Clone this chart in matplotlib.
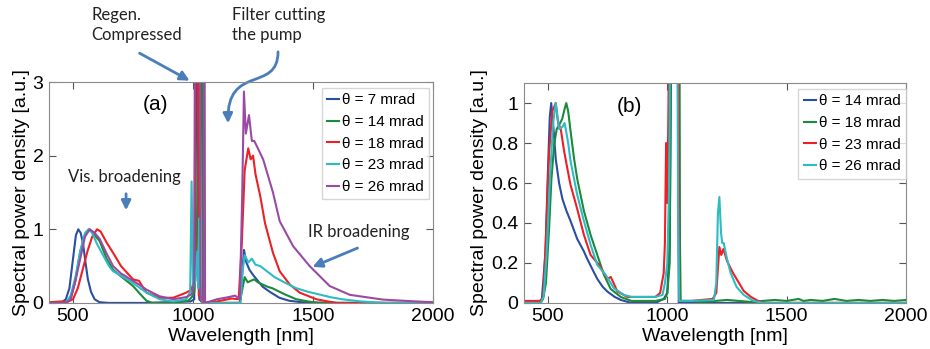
import matplotlib.pyplot as plt
import matplotlib as mpl
from matplotlib.patches import FancyArrowPatch
from matplotlib.path import Path

mpl.rcParams['font.family'] = ['Liberation Sans', 'DejaVu Sans']

# ---- panel (a) ----
wl_a7 = [400, 450, 470, 485, 500, 512, 522, 532, 542, 552, 562, 575, 590, 610, 650, 800, 990, 1005, 1018, 1022,
         1026, 1040, 1100, 1195, 1203, 1212, 1222, 1235, 1250, 1270, 1290, 1320, 1360, 1400, 1450, 1600, 2000]
sp_a7 = [0, 0, 0.05, 0.2, 0.6, 0.92, 1.0, 0.95, 0.8, 0.55, 0.32, 0.15, 0.05, 0.01, 0, 0, 0.02, 0.05, 4, 4,
         0.05, 0, 0, 0, 0.3, 0.72, 0.55, 0.45, 0.38, 0.3, 0.22, 0.15, 0.07, 0.03, 0.01, 0, 0]

wl_a14 = [400, 470, 490, 510, 530, 550, 565, 580, 595, 611, 640, 667, 700, 750, 780, 806, 830, 900, 980, 995,
          1005, 1015, 1025, 1030, 1036, 1040, 1100, 1195, 1203, 1215, 1228, 1240, 1255, 1270, 1290, 1310, 1330,
          1355, 1380, 1430, 1480, 1520, 2000]
sp_a14 = [0, 0, 0.05, 0.3, 0.7, 0.93, 1.0, 0.97, 0.9, 0.84, 0.6, 0.45, 0.36, 0.23, 0.12, 0.03, 0, 0, 0.03, 0.08,
          0.15, 0.6, 4, 4, 4, 0, 0, 0, 0.15, 0.35, 0.28, 0.3, 0.32, 0.28, 0.25, 0.22, 0.2,
          0.16, 0.12, 0.05, 0.02, 0, 0]

wl_a18 = [400, 450, 480, 500, 520, 540, 560, 580, 600, 615, 640, 667, 700, 750, 775, 790, 806, 861, 917, 972,
          993, 1005, 1012, 1020, 1024, 1040, 1100, 1160, 1190, 1203, 1215, 1230, 1240, 1250, 1260, 1280, 1300,
          1333, 1361, 1403, 1444, 1514, 1562, 1600, 2000]
sp_a18 = [0.01, 0.02, 0.02, 0.05, 0.2, 0.45, 0.7, 0.9, 1.0, 0.97, 0.82, 0.68, 0.5, 0.32, 0.3, 0.22, 0.14, 0.07,
          0.07, 0.14, 0.18, 0.3, 4, 4, 0.1, 0, 0.02, 0.06, 0.05, 0.8, 1.8, 2.1, 1.95, 2.0, 1.75, 1.45, 1.08,
          0.68, 0.43, 0.25, 0.14, 0.05, 0.02, 0, 0]

wl_a23 = [400, 470, 490, 510, 530, 550, 565, 580, 600, 620, 650, 667, 700, 750, 806, 861, 917, 972, 988, 994,
          1000, 1010, 1018, 1022, 1026, 1030, 1035, 1040, 1100, 1198, 1205, 1215, 1230, 1245, 1260, 1280, 1300,
          1340, 1380, 1430, 1480, 1520, 1570, 1620, 1700, 1800, 2000]
sp_a23 = [0, 0, 0.1, 0.35, 0.7, 0.95, 1.0, 0.95, 0.8, 0.68, 0.5, 0.43, 0.37, 0.27, 0.14, 0.05, 0.02, 0.05, 0.15,
          1.65, 0.2, 0.3, 0.7, 0.2, 1.15, 0.3, 0.05, 0, 0, 0, 0.4, 0.65, 0.55, 0.6, 0.52, 0.5, 0.45,
          0.35, 0.28, 0.2, 0.15, 0.12, 0.08, 0.05, 0.02, 0, 0]

wl_a26 = [400, 470, 490, 510, 530, 550, 570, 590, 611, 640, 667, 700, 750, 775, 806, 861, 917, 972, 995, 1005,
          1008, 1028, 1031, 1044, 1046, 1048, 1050, 1100, 1150, 1175, 1195, 1205, 1212, 1220, 1233, 1245, 1255,
          1270, 1292, 1333, 1361, 1417, 1486, 1569, 1653, 1792, 1931, 2000]
sp_a26 = [0, 0, 0.05, 0.3, 0.6, 0.9, 1.0, 0.95, 0.87, 0.67, 0.5, 0.4, 0.3, 0.25, 0.18, 0.09, 0.05, 0.08, 0.12,
          0.3, 4, 4, 0.1, 0, 4, 4, 0, 0.05, 0.08, 0.1, 0.05, 1.5, 2.87, 2.3, 2.55, 2.2, 2.2,
          2.1, 1.95, 1.5, 1.11, 0.77, 0.5, 0.23, 0.11, 0.045, 0.02, 0.01]

# ---- panel (b) ----
wl_b14 = [400, 460, 475, 490, 500, 508, 514, 522, 533, 547, 561, 578, 595, 623, 650, 665, 690, 707, 730, 749,
          780, 805, 850, 950, 985, 1000, 1010, 1020, 1030, 1042, 1048, 1100, 2000]
sp_b14 = [0, 0, 0.02, 0.25, 0.65, 0.93, 1.0, 0.9, 0.72, 0.6, 0.52, 0.46, 0.41, 0.32, 0.26, 0.22, 0.16, 0.12,
          0.08, 0.057, 0.03, 0.015, 0, 0, 0.02, 0.05, 0.3, 2, 2, 2, 0, 0, 0]

wl_b18 = [400, 470, 480, 492, 505, 515, 526, 537, 547, 560, 570, 577, 585, 595, 610, 623, 651, 679, 707, 735,
          763, 805, 850, 950, 990, 1000, 1010, 1020, 1045, 1050, 1053, 1056, 1100, 1150, 1200, 1250, 1300,
          1350, 1400, 1450, 1500, 1550, 1570, 1600, 1650, 1700, 1750, 1800, 1850, 1900, 1950, 2000]
sp_b18 = [0, 0, 0.02, 0.1, 0.37, 0.62, 0.79, 0.87, 0.89, 0.92, 0.97, 1.0, 0.96, 0.86, 0.72, 0.62, 0.46, 0.34,
          0.24, 0.14, 0.07, 0.03, 0.01, 0.01, 0.02, 0.05, 0.2, 2, 2, 2, 0.3, 0.01, 0.01, 0.005, 0.01, 0.015,
          0.01, 0.005, 0.01, 0.015, 0.01, 0.02, 0.01, 0.015, 0.01, 0.02, 0.01, 0.015, 0.01, 0.015, 0.01, 0.015]

wl_b23 = [400, 470, 480, 491, 505, 519, 533, 543, 554, 568, 582, 595, 623, 651, 679, 714, 740, 749, 763, 775,
          791, 833, 900, 950, 970, 985, 990, 995, 1000, 1005, 1010, 1015, 1045, 1050, 1100, 1190, 1205, 1218,
          1226, 1235, 1250, 1275, 1300, 1320, 1350, 1380, 1400, 2000]
sp_b23 = [0.01, 0.01, 0.03, 0.3, 0.75, 0.96, 1.0, 0.9, 0.87, 0.76, 0.67, 0.59, 0.47, 0.34, 0.24, 0.19, 0.14,
          0.12, 0.13, 0.1, 0.057, 0.03, 0.03, 0.03, 0.05, 0.15, 0.3, 0.8, 0.5, 1.0, 2, 2, 2, 0.01, 0.01, 0.02,
          0.05, 0.28, 0.24, 0.27, 0.21, 0.15, 0.1, 0.06, 0.03, 0.01, 0, 0]

wl_b26 = [400, 470, 482, 495, 510, 522, 533, 547, 561, 570, 575, 585, 595, 623, 651, 679, 707, 742, 777, 819,
          850, 950, 980, 990, 1000, 1008, 1015, 1040, 1045, 1050, 1100, 1195, 1205, 1212, 1218, 1225, 1230,
          1236, 1250, 1265, 1290, 1320, 1360, 1400, 2000]
sp_b26 = [0, 0, 0.03, 0.25, 0.65, 0.9, 1.0, 0.87, 0.88, 0.9, 0.87, 0.8, 0.71, 0.54, 0.41, 0.29, 0.19, 0.14,
          0.073, 0.04, 0.03, 0.03, 0.04, 0.1, 0.2, 0.6, 2, 2, 0.5, 0.01, 0.01, 0.015, 0.1, 0.45, 0.53, 0.35,
          0.3, 0.3, 0.22, 0.15, 0.08, 0.04, 0.01, 0, 0]

labels_a = ['θ = 7 mrad', 'θ = 14 mrad', 'θ = 18 mrad', 'θ = 23 mrad', 'θ = 26 mrad']
labels_b = ['θ = 14 mrad', 'θ = 18 mrad', 'θ = 23 mrad', 'θ = 26 mrad']

c_blue = '#2a4ea3'
c_green = '#1b8a3a'
c_red = '#ec2027'
c_cyan = '#2bbcc4'
c_purple = '#9a4aa3'
c_arrow = '#4a7ebb'


def style_axes(ax):
    for s in ax.spines.values():
        s.set_color('#8a8a8a')
    ax.tick_params(direction='in', top=True, right=True, length=5, labelsize=14,
                   color='#555555', pad=4)
    ax.set_xlim(400, 2000)
    ax.set_xticks([500, 1000, 1500, 2000])
    ax.set_xlabel('Wavelength [nm]', fontsize=14, labelpad=2)
    ax.set_ylabel('Spectral power density [a.u.]', fontsize=14, labelpad=2)


def add_legend(ax, labels, anchor):
    leg = ax.legend(labels, loc='upper right', fontsize=11, handlelength=0.8, handletextpad=0.2,
                    borderpad=0.35, labelspacing=0.5, fancybox=False, borderaxespad=0,
                    bbox_to_anchor=anchor)
    leg.get_frame().set_edgecolor('#cccccc')
    leg.get_frame().set_linewidth(1.0)


fig = plt.figure(figsize=(9.3, 3.49), dpi=100)

ax = fig.add_axes([0.0527, 0.132, 0.413, 0.633])
ax.plot(wl_a7, sp_a7, color=c_blue, lw=1.5)
ax.plot(wl_a14, sp_a14, color=c_green, lw=1.5)
ax.plot(wl_a18, sp_a18, color=c_red, lw=1.5)
ax.plot(wl_a23, sp_a23, color=c_cyan, lw=1.5)
ax.plot(wl_a26, sp_a26, color=c_purple, lw=1.5)
ax.set_ylim(0, 3)
ax.set_yticks([0, 1, 2, 3])
style_axes(ax)
add_legend(ax, labels_a, (0.99, 0.973))
ax.text(842, 2.69, '(a)', fontsize=15, ha='center', va='center')

afont = dict(family=['Lato', 'DejaVu Sans'], fontsize=12, color='#222222')
aprops = dict(arrowstyle='-|>', color=c_arrow, lw=2, mutation_scale=14)
ax.text(575, 4.02, 'Regen.\nCompressed', va='top', ha='left', linespacing=1.3, clip_on=False, **afont)
ax.text(1162, 4.02, 'Filter cutting\nthe pump', va='top', ha='left', linespacing=1.3, clip_on=False, **afont)
ax.text(712, 1.71, 'Vis. broadening', va='center', ha='center', **afont)
ax.text(1690, 0.96, 'IR broadening', va='center', ha='center', **afont)
ax.annotate('', xy=(996, 3.0), xytext=(767, 3.41), arrowprops=aprops, annotation_clip=False)
# S-shaped arrow towards the filter gap
s_path = Path([(1354, 3.41), (1354, 2.85), (1140, 3.25), (1146, 2.44)],
              [Path.MOVETO, Path.CURVE4, Path.CURVE4, Path.CURVE4])
ax.add_patch(FancyArrowPatch(path=s_path, arrowstyle='-|>', color=c_arrow, lw=2,
                             mutation_scale=14, clip_on=False))
ax.annotate('', xy=(721, 1.22), xytext=(721, 1.52), arrowprops=aprops)
ax.annotate('', xy=(1487, 0.475), xytext=(1696, 0.76), arrowprops=aprops)

bx = fig.add_axes([0.5634, 0.132, 0.411, 0.630])
bx.plot(wl_b14, sp_b14, color=c_blue, lw=1.5)
bx.plot(wl_b18, sp_b18, color=c_green, lw=1.5)
bx.plot(wl_b23, sp_b23, color=c_red, lw=1.5)
bx.plot(wl_b26, sp_b26, color=c_cyan, lw=1.5)
bx.set_ylim(0, 1.1)
bx.set_yticks([0, 0.2, 0.4, 0.6, 0.8, 1])
bx.set_yticklabels(['0', '0.2', '0.4', '0.6', '0.8', '1'])
style_axes(bx)
add_legend(bx, labels_b, (1.0, 0.973))
bx.text(840, 0.985, '(b)', fontsize=15, ha='center', va='center')

plt.savefig('out.png', dpi=100)
plt.close(fig)
